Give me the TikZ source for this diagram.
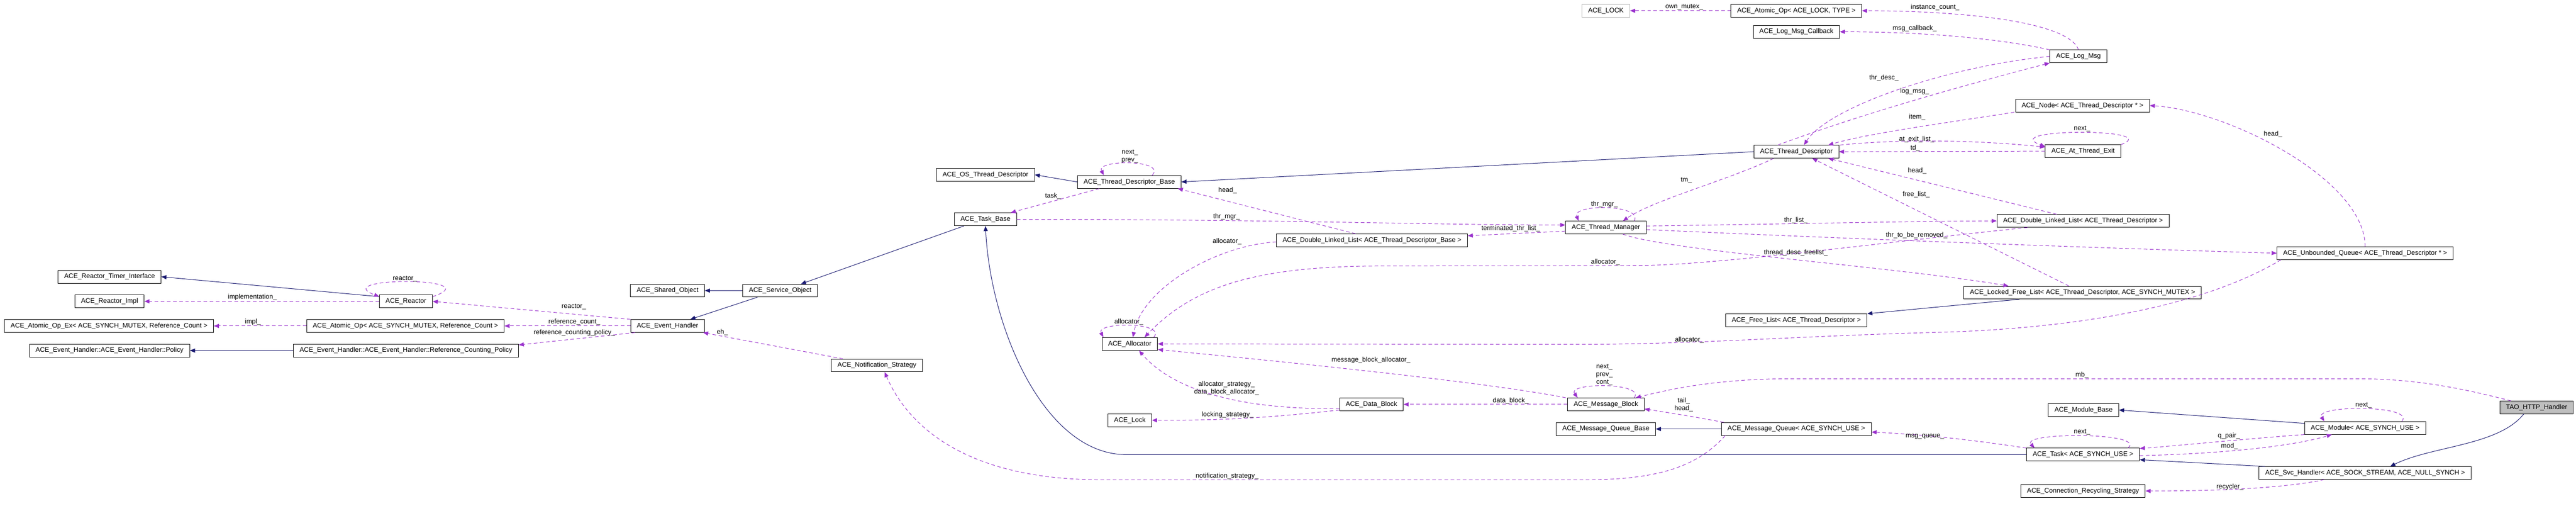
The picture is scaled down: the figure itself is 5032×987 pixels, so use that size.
\documentclass[tikz,border=0pt]{standalone}
\usepackage{fontspec}
\setmainfont{Liberation Sans}
\usepackage{xcolor}
\usepackage{tikz}
\usetikzlibrary{positioning}
\usetikzlibrary{arrows.meta}
\definecolor{inhblue}{HTML}{191970}
\definecolor{usepurple}{HTML}{9A32CD}
\definecolor{selfgray}{HTML}{BFBFBF}
\newcommand\dxfont{\fontsize{13}{15}\selectfont}

\begin{document}
\begin{tikzpicture}[x=1pt,y=-1pt,
cls/.style={draw=black, line width=0.9pt, fill=white, minimum height=25pt,
  inner xsep=12pt, inner ysep=0pt, font=\dxfont},
undoc/.style={cls, draw=gray!60},
self/.style={cls, fill=selfgray},
inh/.style={draw=inhblue, line width=1pt, -{Triangle[length=10pt,width=8pt]}},
use/.style={draw=usepurple, line width=1pt, dash pattern=on 7pt off 5pt,
  -{Triangle[length=10pt,width=8pt]}},
lbl/.style={font=\dxfont, inner sep=0pt, align=center}]
\useasboundingbox (0,0) rectangle (5032,987);

%----------classes
\node[cls] (rti) at (214,540) {ACE\_Reactor\_Timer\_Interface};
\node[cls] (rimpl) at (214,588) {ACE\_Reactor\_Impl};
\node[cls] (aopex) at (213,636) {ACE\_Atomic\_Op\_Ex< ACE\_SYNCH\_MUTEX, Reference\_Count >};
\node[cls] (policy) at (214,684) {ACE\_Event\_Handler::ACE\_Event\_Handler::Policy};
\node[cls] (reactor) at (793,588) {ACE\_Reactor};
\node[cls] (aop) at (792,636) {ACE\_Atomic\_Op< ACE\_SYNCH\_MUTEX, Reference\_Count >};
\node[cls] (rcpolicy) at (793,684) {ACE\_Event\_Handler::ACE\_Event\_Handler::Reference\_Counting\_Policy};
\node[cls] (evh) at (1304,636) {ACE\_Event\_Handler};
\node[cls] (shobj) at (1304,567) {ACE\_Shared\_Object};
\node[cls] (svcobj) at (1524,567) {ACE\_Service\_Object};
\node[cls] (notif) at (1713,713) {ACE\_Notification\_Strategy};
\node[cls] (osthr) at (1925,341) {ACE\_OS\_Thread\_Descriptor};
\node[cls] (taskbase) at (1925,428) {ACE\_Task\_Base};
\node[cls] (tdbase) at (2206,355) {ACE\_Thread\_Descriptor\_Base};
\node[cls] (alloc) at (2207,671) {ACE\_Allocator};
\node[cls] (lock) at (2207,820) {ACE\_Lock};
\node[cls] (dlltdb) at (2680,469) {ACE\_Double\_Linked\_List< ACE\_Thread\_Descriptor\_Base >};
\node[cls] (datablk) at (2679,789) {ACE\_Data\_Block};
\node[undoc] (acelock) at (3137,21) {ACE\_LOCK};
\node[cls] (thrmgr) at (3137,444) {ACE\_Thread\_Manager};
\node[cls] (msgblk) at (3137,789) {ACE\_Message\_Block};
\node[cls] (mqbase) at (3137,837) {ACE\_Message\_Queue\_Base};
\node[cls] (aoplock) at (3509,21) {ACE\_Atomic\_Op< ACE\_LOCK, TYPE >};
\node[cls] (logcb) at (3509,62) {ACE\_Log\_Msg\_Callback};
\node[cls] (thrdesc) at (3509,296) {ACE\_Thread\_Descriptor};
\node[cls] (freelist) at (3509,625) {ACE\_Free\_List< ACE\_Thread\_Descriptor >};
\node[cls] (msgq) at (3509,837) {ACE\_Message\_Queue< ACE\_SYNCH\_USE >};
\node[cls] (logmsg) at (4060,110) {ACE\_Log\_Msg};
\node[cls] (node) at (4068,206) {ACE\_Node< ACE\_Thread\_Descriptor * >};
\node[cls] (atexit) at (4069,295) {ACE\_At\_Thread\_Exit};
\node[cls] (dlltd) at (4069,431) {ACE\_Double\_Linked\_List< ACE\_Thread\_Descriptor >};
\node[cls] (lfl) at (4068,571) {ACE\_Locked\_Free\_List< ACE\_Thread\_Descriptor, ACE\_SYNCH\_MUTEX >};
\node[cls] (modbase) at (4070,800) {ACE\_Module\_Base};
\node[cls] (task) at (4069,887) {ACE\_Task< ACE\_SYNCH\_USE >};
\node[cls] (recyc) at (4069,958) {ACE\_Connection\_Recycling\_Strategy};
\node[cls] (uq) at (4620,494) {ACE\_Unbounded\_Queue< ACE\_Thread\_Descriptor * >};
\node[cls] (module) at (4620,835) {ACE\_Module< ACE\_SYNCH\_USE >};
\node[cls] (svch) at (4620,923) {ACE\_Svc\_Handler< ACE\_SOCK\_STREAM, ACE\_NULL\_SYNCH >};
\node[self] (http) at (4955,795) {TAO\_HTTP\_Handler};

%----------inheritance
\draw[inh] (reactor.170) -- (rti.east);
\draw[inh] (rcpolicy.west) -- (policy.east);
\draw[inh] (svcobj.west) -- (shobj.east);
\draw[inh] ([xshift=29pt]svcobj.south west) -- ([xshift=-28pt]evh.north east);
\draw[inh] ([xshift=19pt]taskbase.south west) -- ([xshift=-33pt]svcobj.north east);
\draw[inh] (tdbase.west) -- (osthr.east);
\draw[inh] (thrdesc.west) -- (tdbase.east);
\draw[inh] (task.west) -- (2200,887) .. controls (2040,887) and (1935,640) .. (taskbase.south);
\draw[inh] ([xshift=109pt]lfl.south west) -- (freelist.north east);
\draw[inh] (msgq.west) -- (mqbase.east);
\draw[inh] ([yshift=9pt]module.west) -- (modbase.east);
\draw[inh] ([xshift=12pt]svch.north west) -- ([yshift=-10pt]task.east);
\draw[inh] ([xshift=47pt]http.south west) .. controls (4880,870) and (4750,870) .. ([xshift=49pt]svch.north);

%----------members, left part
\draw[use] (reactor.west) -- (rimpl.east);
\node[lbl] (limpl) at (493,580) {implementation\_};
\draw[use] (reactor.10) .. controls (960,540) and (640,540) .. (reactor.170);
\node[lbl] (lreac) at (791,544) {reactor\_};
\draw[use] (aop.west) -- (aopex.east);
\node[lbl] (limp) at (494,628) {impl\_};
\draw[use] (evh.north west) -- (reactor.east);
\node[lbl] (lreac2) at (1121,598) {reactor\_};
\draw[use] (evh.west) -- (aop.east);
\node[lbl] (lrc) at (1122,628) {reference\_count\_};
\draw[use] ([xshift=9pt]evh.south west) -- ([yshift=11pt]rcpolicy.east);
\node[lbl] (lrcp) at (1122,649) {reference\_counting\_policy\_};
\draw[use] ([xshift=23pt]notif.north west) -- ([xshift=-3pt]evh.south east);
\node[lbl] (leh) at (1411,648) {eh\_};

%----------members, thread part
\draw[use] ([xshift=43pt]tdbase.south west) -- ([xshift=-12pt]taskbase.north east);
\node[lbl] (ltask) at (2057,383) {task\_};
\draw[use] ([xshift=-57pt]tdbase.north east) .. controls (2280,311) and (2140,311) .. ([xshift=52pt]tdbase.north west);
\node[lbl] (ltdb) at (2207,305) {next\_\\prev\_};
\draw[use] (taskbase.east) .. controls (2500,428) and (2800,439) .. ([yshift=5pt]thrmgr.west);
\node[lbl] (ltm1) at (2396,423) {thr\_mgr\_};
\draw[use] ([xshift=155pt]dlltdb.north west) -- ([xshift=-7pt]tdbase.south east);
\node[lbl] (lhead1) at (2398,371) {head\_};
\draw[use] ([yshift=-7pt]thrmgr.west) -- ([yshift=9pt]dlltdb.east);
\node[lbl] (lterm) at (2951,446) {terminated\_thr\_list\_};
\draw[use] ([yshift=-3pt]dlltdb.west) .. controls (2380,478) and (2232,560) .. ([xshift=6pt]alloc.north);
\node[lbl] (lal1) at (2397,471) {allocator\_};
\draw[use] ([xshift=-8pt]alloc.north east) .. controls (2280,628) and (2140,628) .. ([xshift=3pt]alloc.north west);
\node[lbl] (lal2) at (2205,628) {allocator\_};
\draw[use] ([xshift=60pt]dlltd.south west) .. controls (3700,470) and (3350,518) .. (3200,518)
  -- (2700,519) .. controls (2450,519) and (2330,560) .. ([xshift=-26pt]alloc.north east);
\node[lbl] (lal3) at (3136,511) {allocator\_};
\draw[use] ([xshift=8pt]uq.south west) .. controls (4300,600) and (4050,640) .. (3800,648)
  .. controls (3500,656) and (3350,670) .. (3100,672) -- (alloc.east);
\node[lbl] (lal4) at (3300,663) {allocator\_};
\draw[use] ([xshift=-3pt]msgblk.north west) .. controls (2900,745) and (2500,705) .. ([yshift=-11pt]alloc.east);
\node[lbl] (lmba) at (2678,703) {message\_block\_allocator\_};
\draw[use] ([yshift=-8pt]datablk.west) .. controls (2420,800) and (2290,760) .. ([xshift=18pt]alloc.south);
\node[lbl] (ldba) at (2396,757) {allocator\_strategy\_\\data\_block\_allocator\_};
\draw[use] ([yshift=-11pt]datablk.west) .. controls (2480,815) and (2400,820) .. (lock.east);
\node[lbl] (llock) at (2398,809) {locking\_strategy\_};

%----------members, descriptor part
\draw[use] ([xshift=39pt]thrdesc.south west) .. controls (3380,350) and (3230,390) .. ([xshift=-46pt]thrmgr.north east);
\node[lbl] (ltm) at (3294,352) {tm\_};
\draw[use] ([xshift=-24pt]thrmgr.north east) .. controls (3210,398) and (3070,398) .. ([xshift=26pt]thrmgr.north west);
\node[lbl] (ltm2) at (3134,399) {thr\_mgr\_};
\draw[use] ([yshift=3pt]thrmgr.east) .. controls (3500,437) and (3700,432) .. (dlltd.west);
\node[lbl] (lthr) at (3508,430) {thr\_list\_};
\draw[use] ([yshift=-4pt]thrmgr.east) .. controls (3700,470) and (4200,487) .. (uq.west);
\node[lbl] (lrem) at (3744,459) {thr\_to\_be\_removed\_};
\draw[use] ([xshift=-46pt]thrmgr.south east) .. controls (3260,490) and (3700,520) .. ([xshift=88pt]lfl.north west);
\node[lbl] (lfree) at (3508,493) {thread\_desc\_freelist\_};
\draw[use] ([xshift=117pt]dlltd.north west) -- ([xshift=-21pt]thrdesc.south east);
\node[lbl] (lhead2) at (3745,333) {head\_};
\draw[use] ([xshift=206pt]lfl.north west) -- ([xshift=31pt]thrdesc.south);
\node[lbl] (lfl2) at (3743,380) {free\_list\_};
\draw[use] ([xshift=-2pt]node.south west) .. controls (3800,240) and (3650,260) .. ([xshift=-21pt]thrdesc.north east);
\node[lbl] (litem) at (3745,229) {item\_};
\draw[use] (atexit.west) -- (thrdesc.east);
\node[lbl] (ltd) at (3741,289) {td\_};
\draw[use] ([xshift=2pt]thrdesc.north east) .. controls (3700,272) and (3850,272) .. ([yshift=-5pt]atexit.north west);
\node[lbl] (lexit) at (3744,272) {at\_exit\_list\_};
\draw[use] (atexit.north east) .. controls (4230,250) and (3900,250) .. ([yshift=-4pt]atexit.north west);
\node[lbl] (lnext1) at (4067,251) {next\_};
\draw[use] (uq.north) .. controls (4620,350) and (4350,215) .. (node.east);
\node[lbl] (lhead3) at (4440,262) {head\_};
\draw[use] ([xshift=47pt]thrdesc.north west) .. controls (3670,210) and (3900,150) .. (logmsg.south west);
\node[lbl] (llog) at (3740,178) {log\_msg\_};
\draw[use] (logmsg.west) .. controls (3800,130) and (3570,210) .. ([xshift=15pt]thrdesc.north);
\node[lbl] (lthd) at (3680,152) {thr\_desc\_};
\draw[use] (logmsg.north west) .. controls (3880,70) and (3720,62) .. (logcb.east);
\node[lbl] (lcb) at (3740,56) {msg\_callback\_};
\draw[use] (logmsg.north) .. controls (4040,40) and (3820,21) .. (aoplock.east);
\node[lbl] (lcnt) at (3780,14) {instance\_count\_};
\draw[use] (aoplock.west) -- (acelock.east);
\node[lbl] (lown) at (3290,14) {own\_mutex\_};

%----------members, message part
\draw[use] (msgblk.west) -- (datablk.east);
\node[lbl] (ldb) at (2951,782) {data\_block\_};
\draw[use] ([xshift=-20pt]msgblk.north east) .. controls (3215,746) and (3060,746) .. ([xshift=20pt]msgblk.north west);
\node[lbl] (lmb) at (3134,731) {next\_\\prev\_\\cont\_};
\draw[use] ([xshift=5pt]msgq.north west) .. controls (3320,815) and (3260,805) .. ([yshift=-9pt]msgblk.east);
\node[lbl] (ltail) at (3289,790) {tail\_\\head\_};
\draw[use] ([xshift=22pt]http.north west) .. controls (4780,750) and (4700,739) .. (4600,739)
  -- (3500,739) .. controls (3350,739) and (3260,760) .. ([xshift=-17pt]msgblk.north east);
\node[lbl] (lmb2) at (4067,732) {mb\_};
\draw[use] (task.north west) .. controls (3900,866) and (3800,850) .. ([yshift=-6pt]msgq.east);
\node[lbl] (lmq) at (3760,852) {msg\_queue\_};
\draw[use] ([xshift=-23pt]task.north east) .. controls (4195,843) and (3945,843) .. ([xshift=16pt]task.north west);
\node[lbl] (lnext2) at (4067,843) {next\_};
\draw[use] (module.south west) .. controls (4400,855) and (4250,870) .. ([yshift=12pt]task.east);
\node[lbl] (lqp) at (4354,851) {q\_pair\_};
\draw[use] ([yshift=-2pt]task.east) .. controls (4350,885) and (4480,870) .. ([xshift=-65pt]module.south);
\node[lbl] (lmod) at (4355,871) {mod\_};
\draw[use] ([xshift=-47pt]module.north east) .. controls (4720,790) and (4520,790) .. ([xshift=39pt]module.north west);
\node[lbl] (lnext3) at (4617,791) {next\_};
\draw[use] ([xshift=-80pt]svch.south) .. controls (4450,955) and (4300,958) .. (recyc.east);
\node[lbl] (lrec) at (4356,950) {recycler\_};
\draw[use] ([xshift=8pt]msgq.south west) .. controls (3320,905) and (3250,936) .. (3100,936)
  -- (2150,936) .. controls (1850,936) and (1760,800) .. ([xshift=15pt]notif.south);
\node[lbl] (lnot) at (2397,929) {notification\_strategy\_};

\end{tikzpicture}
\end{document}
